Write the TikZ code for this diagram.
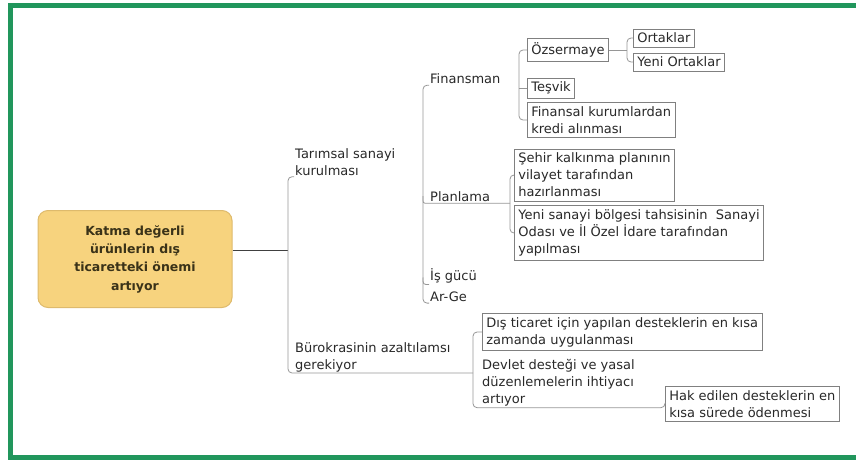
\documentclass[tikz,border=0pt]{standalone}
\usepackage{fontspec}
\setmainfont{DejaVu Sans}
\definecolor{framegreen}{RGB}{33,150,92}
\definecolor{rootfill}{RGB}{247,211,126}
\definecolor{rootdraw}{RGB}{222,186,108}
\definecolor{roottext}{RGB}{58,50,24}
\definecolor{linkgray}{RGB}{150,150,150}
\definecolor{boxgray}{RGB}{128,128,128}
\definecolor{inktext}{RGB}{40,40,40}
\tikzset{
    topic/.style={anchor=west, inner sep=1pt, align=left, text=inktext,
        font=\fontsize{13}{17}\selectfont},
    topicbox/.style={topic, draw=boxgray, fill=white, line width=0.6pt,
        inner xsep=4pt, inner ysep=4pt},
    rootbox/.style={draw=rootdraw, fill=rootfill, line width=1pt, rounded corners=10pt,
        minimum width=194pt, minimum height=97pt, align=center, text=roottext,
        font=\fontsize{12.5}{18.3}\selectfont\bfseries},
    link/.style={draw=linkgray, line width=0.8pt, rounded corners=4pt},
    rootlink/.style={draw=black!75, line width=1pt},
}
\begin{document}
\begin{tikzpicture}[x=1pt, y=-1pt]
    \useasboundingbox (0,0) rectangle (856,461);
    \clip (0,0) rectangle (856,461);
    \draw[framegreen, line width=5pt] (10.5,5) rectangle (900,457);

    \node[rootbox] (root) at (135,259) {Katma değerli\\ürünlerin dış\\ticaretteki önemi\\artıyor};

    \node[topic] (tar) at (294,162) {Tarımsal sanayi\\kurulması};
    \node[topic] (bur) at (294,357) {Bürokrasinin azaltılamsı\\gerekiyor};

    \node[topic] (fin) at (429,79) {Finansman};
    \node[topic] (plan) at (429,197) {Planlama};
    \node[topic] (isg) at (429,276) {İş gücü};
    \node[topic] (arge) at (429,297) {Ar-Ge};

    \node[topicbox] (ozs) at (527,50) {Özsermaye};
    \node[topicbox] (ort) at (633,38) {Ortaklar};
    \node[topicbox] (yort) at (633,62) {Yeni Ortaklar};
    \node[topicbox] (tes) at (527,88) {Teşvik};
    \node[topicbox] (fink) at (527,120) {Finansal kurumlardan\\kredi alınması};

    \node[topicbox] (sehir) at (514,175) {Şehir kalkınma planının\\vilayet tarafından\\hazırlanması};
    \node[topicbox] (yeni) at (514,233) {Yeni sanayi bölgesi tahsisinin\ \ Sanayi\\Odası ve İl Özel İdare tarafından\\yapılması};

    \node[topicbox] (dis) at (482,332) {Dış ticaret için yapılan desteklerin en kısa\\zamanda uygulanması};
    \node[topic] (dev) at (481,383) {Devlet desteği ve yasal\\düzenlemelerin ihtiyacı\\artıyor};
    \node[topicbox] (hak) at (665,404) {Hak edilen desteklerin en\\kısa sürede ödenmesi};

    \coordinate (b1) at (288,0);
    \coordinate (b2) at (423,0);
    \coordinate (b3) at (510,0);
    \coordinate (b4) at (519,0);
    \coordinate (b5) at (627,0);
    \coordinate (b6) at (473,0);
    \coordinate (hub) at (288,250);

    \draw[rootlink] (root.east |- hub) -- (hub);
    \draw[link] (tar.south west) -- (b1 |- tar.south west) -- (b1 |- bur.south west) -- (b6 |- bur.south west);

    \draw[link] (fin.south west) -- (b2 |- fin.south west) -- (b2 |- arge.south west) -- (arge.south west);
    \draw[link] ([yshift=7pt]b2 |- plan.south west) .. controls (b2 |- plan.south west) .. ([xshift=6pt]b2 |- plan.south west) -- (b3 |- plan.south west);
    \draw[link] ([yshift=7pt]b2 |- isg.south west) .. controls (b2 |- isg.south west) .. (isg.south west);

    \draw[link] (ozs.west) -- (b4 |- ozs.west) -- (b4 |- fink.west) -- (fink.west);
    \draw[link] (b4 |- tes.west) -- (tes.west);
    \draw[link] (ozs.east) -- (b5 |- ozs.east);
    \draw[link] (ort.west) -- (b5 |- ort.west) -- (b5 |- yort.west) -- (yort.west);

    \draw[link] (sehir.west) -- (b3 |- sehir.west) -- (b3 |- yeni.west) -- (yeni.west);

    \draw[link] (dis.west) -- (b6 |- dis.west) -- (b6 |- dev.south west) -- (hak.west |- dev.south west) -- (hak.west);
\end{tikzpicture}
\end{document}
